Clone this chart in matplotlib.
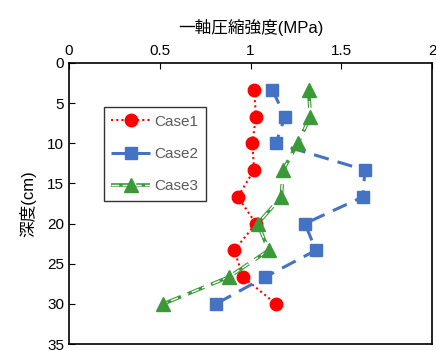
import matplotlib.pyplot as plt

plt.rcParams['font.family'] = ['Liberation Sans', 'Noto Sans CJK JP']

depth = [3.33, 6.67, 10, 13.33, 16.67, 20, 23.33, 26.67, 30]
case1 = [1.02, 1.03, 1.01, 1.02, 0.93, 1.03, 0.91, 0.96, 1.14]
case2 = [1.12, 1.19, 1.14, 1.63, 1.62, 1.30, 1.36, 1.08, 0.81]
case3 = [1.32, 1.33, 1.26, 1.18, 1.17, 1.04, 1.10, 0.88, 0.52]

green = '#3A9A3A'
fig = plt.figure(figsize=(4.36, 3.51), dpi=100)
ax = fig.add_axes([69/436, 1 - 344/351, 363/436, 281/351])

h1, = ax.plot(case1, depth, color='red', linestyle=(0, (1, 1.5)), linewidth=1.5,
              marker='o', markersize=9)
h2, = ax.plot(case2, depth, color='#4472C4', linestyle=(0, (5, 3)), linewidth=2.2,
              marker='s', markersize=9)
# double-line look for Case3: green dashes with a white core
g1, = ax.plot(case3, depth, color=green, linestyle=(0, (5, 2)), linewidth=2.6)
g2, = ax.plot(case3, depth, color='white', linestyle=(0, (5.5, 2.6)), linewidth=1.0)
g3, = ax.plot(case3, depth, color=green, linestyle='none', marker='^', markersize=10)

ax.set_xlim(0, 2)
ax.set_ylim(35, 0)
ax.set_xticks([0, 0.5, 1, 1.5, 2])
ax.set_xticklabels(['0', '0.5', '1', '1.5', '2'])
ax.set_yticks(range(0, 36, 5))
ax.xaxis.tick_top()
ax.xaxis.set_label_position('top')
ax.tick_params(direction='in', labelsize=11, length=4)
ax.set_xlabel('一軸圧縮強度(MPa)', fontsize=12, labelpad=8)
ax.set_ylabel('深度(cm)', fontsize=12, labelpad=8)
for s in ax.spines.values():
    s.set_linewidth(1.2)

leg = ax.legend([h1, h2, (g1, g2, g3)], ['Case1', 'Case2', 'Case3'],
                loc='upper left', bbox_to_anchor=(0.096, 0.843), borderaxespad=0,
                fontsize=11, frameon=True, fancybox=False, edgecolor='black',
                handlelength=2.5, handletextpad=0.3, labelspacing=1.2,
                borderpad=0.5, labelcolor='#595959')
leg.get_frame().set_linewidth(1.0)

plt.savefig('out.png', dpi=100)
